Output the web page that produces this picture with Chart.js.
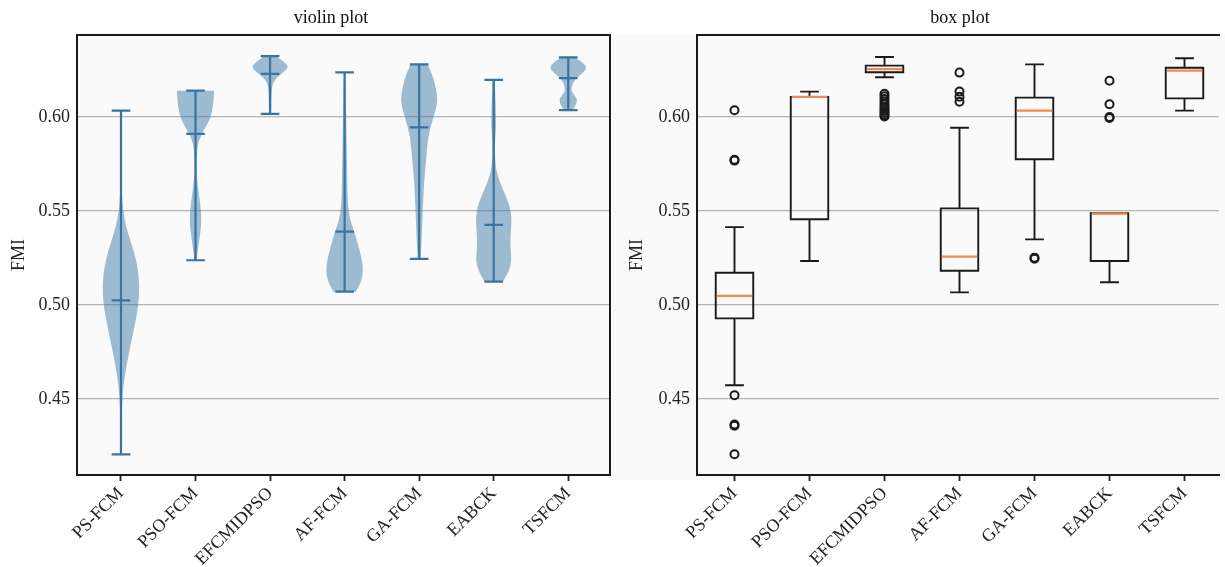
<!DOCTYPE html>
<html>
<head>
<meta charset="UTF-8">
<title>FMI violin and box plots</title>
<script src="https://cdn.jsdelivr.net/npm/chart.js@4.4.0/dist/chart.umd.min.js"></script>
<style>
  body { margin: 0; background: #fff; }
  #wrap { position: relative; width: 1225px; height: 567px; }
  #violinChart { position: absolute; left: 0; top: 0; }
  #boxChart { position: absolute; left: 612px; top: 0; }
</style>
</head>
<body>
<div id="wrap">
  <canvas id="violinChart" width="612" height="567"></canvas>
  <canvas id="boxChart" width="613" height="567"></canvas>
</div>

<script>
const methods = ['PS-FCM', 'PSO-FCM', 'EFCMIDPSO', 'AF-FCM', 'GA-FCM', 'EABCK', 'TSFCM'];
const yTicks = [0.45, 0.50, 0.55, 0.60];
const yMin = 0.4096, yMax = 0.6436;

// violin plot: extrema, means and the density outline (value, relative half width)
const violinMax = [0.6034, 0.6140, 0.6324, 0.6237, 0.6280, 0.6197, 0.6317];
const violinMean = [0.5025, 0.5910, 0.6229, 0.5390, 0.5945, 0.5426, 0.6207];
const violinMin = [0.4206, 0.5238, 0.6016, 0.5071, 0.5245, 0.5124, 0.6037];
const violinDensity = [
  [[0.6034, 0.01], [0.580, 0.02], [0.562, 0.04], [0.552, 0.09], [0.545, 0.2], [0.538, 0.38], [0.529, 0.68], [0.520, 0.9],
   [0.510, 1.0], [0.499, 0.93], [0.4885, 0.72], [0.478, 0.5], [0.467, 0.28], [0.458, 0.14], [0.4495, 0.07], [0.435, 0.03], [0.4206, 0.02]],
  [[0.6140, 1.0], [0.6055, 0.95], [0.5984, 0.77], [0.593, 0.45], [0.5878, 0.18], [0.5824, 0.08], [0.5736, 0.05], [0.5665, 0.08],
   [0.5576, 0.2], [0.5488, 0.31], [0.5417, 0.3], [0.5346, 0.2], [0.5275, 0.1], [0.5238, 0.07]],
  [[0.6324, 0.3], [0.6294, 0.75], [0.6268, 1.0], [0.6241, 0.75], [0.6214, 0.4], [0.6188, 0.2], [0.6161, 0.1], [0.6108, 0.07],
   [0.6055, 0.06], [0.6016, 0.05]],
  [[0.6237, 0.04], [0.6153, 0.06], [0.5975, 0.09], [0.5798, 0.12], [0.562, 0.15], [0.552, 0.18], [0.545, 0.3], [0.539, 0.52],
   [0.5301, 0.78], [0.524, 0.93], [0.5186, 1.0], [0.5124, 0.9], [0.5085, 0.68], [0.5071, 0.6]],
  [[0.6280, 0.45], [0.6223, 0.72], [0.6153, 0.9], [0.609, 1.0], [0.6028, 0.86], [0.5957, 0.63], [0.5869, 0.45], [0.5762, 0.36],
   [0.5656, 0.27], [0.555, 0.21], [0.5443, 0.17], [0.5337, 0.13], [0.5245, 0.08]],
  [[0.6197, 0.06], [0.609, 0.1], [0.6002, 0.12], [0.5948, 0.13], [0.588, 0.08], [0.5824, 0.06], [0.5736, 0.1], [0.5683, 0.22],
   [0.5612, 0.5], [0.5541, 0.82], [0.547, 0.97], [0.5399, 0.92], [0.531, 0.88], [0.5239, 0.97], [0.5177, 0.8], [0.5133, 0.55], [0.5124, 0.5]],
  [[0.6317, 0.38], [0.6286, 0.85], [0.6259, 1.0], [0.6233, 0.75], [0.6197, 0.34], [0.6161, 0.18], [0.6135, 0.17], [0.6100, 0.48],
   [0.6073, 0.45], [0.6046, 0.3], [0.6037, 0.25]]
];

// box plot
const boxWhiskerHigh = [0.5414, 0.6135, 0.6319, 0.5943, 0.6280, 0.5488, 0.6312];
const boxQ3 = [0.5172, 0.6107, 0.6273, 0.5514, 0.6103, 0.5488, 0.6262];
const boxMedian = [0.5049, 0.6107, 0.6254, 0.5257, 0.6034, 0.5486, 0.6247];
const boxQ1 = [0.4929, 0.5456, 0.6238, 0.5182, 0.5775, 0.5234, 0.6099];
const boxWhiskerLow = [0.4573, 0.5234, 0.6211, 0.5067, 0.5349, 0.5121, 0.6034];
const boxOutliers = [
  [0.6036, 0.5772, 0.5768, 0.452, 0.4365, 0.4358, 0.4206],
  [],
  [0.6124, 0.6110, 0.6096, 0.6082, 0.6068, 0.6055, 0.6043, 0.6032, 0.6021, 0.6010, 0.6003],
  [0.6236, 0.6135, 0.6108, 0.6081],
  [0.5252, 0.5246],
  [0.6193, 0.6068, 0.6000, 0.5995],
  []
];

Chart.defaults.font.family = "'Liberation Serif', 'Times New Roman', serif";
Chart.defaults.font.size = 18;
Chart.defaults.color = '#222';

function trace(ctx, pts, first) {
  if (first) ctx.moveTo(pts[0].x, pts[0].y); else ctx.lineTo(pts[0].x, pts[0].y);
  for (let i = 1; i < pts.length - 1; i++) {
    ctx.quadraticCurveTo(pts[i].x, pts[i].y, (pts[i].x + pts[i + 1].x) / 2, (pts[i].y + pts[i + 1].y) / 2);
  }
  ctx.lineTo(pts[pts.length - 1].x, pts[pts.length - 1].y);
}

const panelBg = {
  id: 'panelBg',
  beforeDraw(chart, args, opts) {
    const a = chart.chartArea, ctx = chart.ctx;
    ctx.save();
    ctx.fillStyle = '#fafafa';
    if (opts.full) ctx.fillRect(0, a.top, chart.width, a.bottom + 5 - a.top);
    else ctx.fillRect(a.left, a.top, a.right - a.left, a.bottom - a.top);
    ctx.restore();
  }
};

const frame = {
  id: 'frame',
  afterDraw(chart, args, opts) {
    const a = chart.chartArea, ctx = chart.ctx;
    ctx.save();
    ctx.strokeStyle = '#1a1a1a';
    ctx.lineWidth = 2;
    ctx.beginPath();
    if (opts.right) { ctx.moveTo(a.right, a.top); ctx.lineTo(a.right, a.bottom); }
    ctx.moveTo(a.left, a.top); ctx.lineTo(a.left, a.bottom);
    ctx.moveTo(a.left - 1, a.top); ctx.lineTo(a.right + 1, a.top);
    ctx.moveTo(a.left - 1, a.bottom); ctx.lineTo(a.right + 1, a.bottom);
    ctx.stroke();
    ctx.restore();
  }
};

// the title is drawn a little left of the axes centre, as in the figure
const sideTitle = {
  id: 'sideTitle',
  afterDraw(chart, args, opts) {
    const ctx = chart.ctx;
    ctx.save();
    ctx.font = "18px 'Liberation Serif', 'Times New Roman', serif";
    ctx.fillStyle = '#111';
    ctx.textAlign = 'center';
    ctx.textBaseline = 'middle';
    ctx.fillText(opts.text, opts.x, 18);
    ctx.restore();
  }
};

const violins = {
  id: 'violins',
  afterDatasetsDraw(chart) {
    const ctx = chart.ctx, xs = chart.scales.x, ys = chart.scales.y;
    ctx.save();
    methods.forEach((m, i) => {
      const pos = i + 1;
      const prof = violinDensity[i];
      const right = prof.map(([v, f]) => ({ x: xs.getPixelForValue(pos + f * 0.25), y: ys.getPixelForValue(v) }));
      const left = prof.map(([v, f]) => ({ x: xs.getPixelForValue(pos - f * 0.25), y: ys.getPixelForValue(v) })).reverse();
      ctx.beginPath();
      trace(ctx, right, true);
      trace(ctx, left, false);
      ctx.closePath();
      ctx.fillStyle = 'rgba(62,124,168,0.5)';
      ctx.fill();

      const cx = xs.getPixelForValue(pos);
      const x0 = xs.getPixelForValue(pos - 0.125), x1 = xs.getPixelForValue(pos + 0.125);
      ctx.strokeStyle = '#3a73a0';
      ctx.lineWidth = 2.2;
      ctx.beginPath();
      ctx.moveTo(cx, ys.getPixelForValue(violinMax[i]));
      ctx.lineTo(cx, ys.getPixelForValue(violinMin[i]));
      [violinMax[i], violinMean[i], violinMin[i]].forEach(v => {
        const y = ys.getPixelForValue(v);
        ctx.moveTo(x0, y); ctx.lineTo(x1, y);
      });
      ctx.stroke();
    });
    ctx.restore();
  }
};

const boxes = {
  id: 'boxes',
  afterDatasetsDraw(chart) {
    const ctx = chart.ctx, xs = chart.scales.x, ys = chart.scales.y;
    ctx.save();
    ctx.lineWidth = 1.9;
    methods.forEach((m, i) => {
      const pos = i + 1;
      const cx = xs.getPixelForValue(pos);
      const b0 = xs.getPixelForValue(pos - 0.25), b1 = xs.getPixelForValue(pos + 0.25);
      const c0 = xs.getPixelForValue(pos - 0.125), c1 = xs.getPixelForValue(pos + 0.125);
      const yHi = ys.getPixelForValue(boxWhiskerHigh[i]), yLo = ys.getPixelForValue(boxWhiskerLow[i]);
      const y3 = ys.getPixelForValue(boxQ3[i]), y1 = ys.getPixelForValue(boxQ1[i]);
      const yMed = ys.getPixelForValue(boxMedian[i]);
      ctx.strokeStyle = '#1a1a1a';
      ctx.beginPath();
      ctx.rect(b0, y3, b1 - b0, y1 - y3);
      ctx.moveTo(cx, y3); ctx.lineTo(cx, yHi);
      ctx.moveTo(c0, yHi); ctx.lineTo(c1, yHi);
      ctx.moveTo(cx, y1); ctx.lineTo(cx, yLo);
      ctx.moveTo(c0, yLo); ctx.lineTo(c1, yLo);
      ctx.stroke();
      ctx.strokeStyle = '#f08a52';
      ctx.lineWidth = 2.2;
      ctx.beginPath();
      ctx.moveTo(b0 + 1, yMed); ctx.lineTo(b1 - 1, yMed);
      ctx.stroke();
      ctx.lineWidth = 1.9;
    });
    ctx.restore();
  }
};

function scalesFor(xMin, xMax, yWidth, titlePad) {
  return {
    x: {
      type: 'linear', min: xMin, max: xMax,
      afterBuildTicks: s => { s.ticks = methods.map((m, i) => ({ value: i + 1 })); },
      afterFit: s => { s.height = 92; },
      ticks: { autoSkip: false, minRotation: 45, maxRotation: 45, padding: 2, callback: v => methods[v - 1] },
      grid: { drawOnChartArea: false, drawTicks: true, tickLength: 6, tickColor: '#222', tickWidth: 1.8 },
      border: { display: false }
    },
    y: {
      type: 'linear', min: yMin, max: yMax,
      afterBuildTicks: s => { s.ticks = yTicks.map(v => ({ value: v })); },
      afterFit: s => { s.width = yWidth; },
      ticks: { padding: 7, callback: v => v.toFixed(2) },
      grid: { color: '#b4b4b4', lineWidth: 1.2, drawTicks: false },
      border: { display: false },
      title: { display: true, text: 'FMI', padding: { top: titlePad, bottom: 0 } }
    }
  };
}

new Chart(document.getElementById('violinChart'), {
  type: 'scatter',
  data: { datasets: [] },
  options: {
    responsive: false, animation: false, events: [],
    layout: { padding: { left: 0, right: 2, top: 35, bottom: 0 } },
    scales: scalesFor(0.41, 7.56, 77, 8),
    plugins: {
      legend: { display: false }, tooltip: { enabled: false },
      sideTitle: { text: 'violin plot', x: 331 },
      panelBg: { full: false }, frame: { right: true }
    }
  },
  plugins: [panelBg, violins, frame, sideTitle]
});

new Chart(document.getElementById('boxChart'), {
  type: 'scatter',
  data: {
    datasets: [{
      label: 'outliers',
      data: boxOutliers.flatMap((arr, i) => arr.map(v => ({ x: i + 1, y: v }))),
      pointStyle: 'circle', pointRadius: 4, borderWidth: 2,
      borderColor: '#1a1a1a', backgroundColor: 'rgba(0,0,0,0)'
    }]
  },
  options: {
    responsive: false, animation: false, events: [],
    layout: { padding: { left: 0, right: 0, top: 35, bottom: 0 } },
    scales: scalesFor(0.5, 7.46, 85, 14),
    plugins: {
      legend: { display: false }, tooltip: { enabled: false },
      sideTitle: { text: 'box plot', x: 348 },
      panelBg: { full: true }, frame: { right: false }
    }
  },
  plugins: [panelBg, boxes, frame, sideTitle]
});
</script>
</body>
</html>
